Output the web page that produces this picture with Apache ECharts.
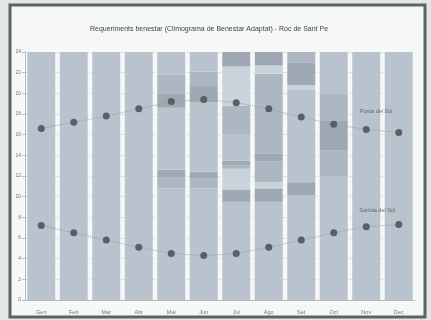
<!DOCTYPE html>
<html><head><meta charset="utf-8">
<script src="https://cdn.jsdelivr.net/npm/echarts@6/dist/echarts.min.js"></script>
<style>html,body{margin:0;padding:0;background:#e4e6e6;}#c{width:431px;height:320px;}</style>
</head><body><div id="c"></div>
<script>
const months = ['Gen','Feb','Mar','Abr','Mai','Jun','Jul','Ago','Set','Oct','Nov','Dec'];
const sunset = [16.6, 17.2, 17.8, 18.5, 19.2, 19.4, 19.1, 18.5, 17.7, 17.0, 16.5, 16.2];
const sunrise = [7.2, 6.5, 5.8, 5.1, 4.5, 4.3, 4.5, 5.1, 5.8, 6.5, 7.1, 7.3];
const yTicks = [0,2,4,6,8,10,12,14,16,18,20,22,24];
// zone bands per month: [upper bound (h), zone type], from bottom to top
const zGen = [[24,'base']];
const zFeb = [[24,'base']];
const zMar = [[24,'base']];
const zAbr = [[24,'base']];
const zMai = [[10.8,'base'],[11.9,'medium'],[12.6,'dark'],[18.6,'base'],[20.0,'dark'],[21.8,'medium'],[24,'base']];
const zJun = [[10.8,'base'],[11.8,'medium'],[12.4,'dark'],[19.1,'base'],[20.7,'dark'],[22.1,'medium'],[24,'base']];
const zJul = [[9.5,'base'],[10.7,'dark'],[12.7,'light'],[13.0,'medium'],[13.5,'dark'],[16.0,'base'],[18.8,'medium'],[22.6,'light'],[24,'dark']];
const zAgo = [[9.5,'base'],[10.8,'dark'],[11.4,'light'],[13.4,'medium'],[14.2,'dark'],[21.9,'medium'],[22.7,'light'],[24,'dark']];
const zSet = [[10.1,'base'],[11.4,'dark'],[20.4,'base'],[20.8,'light'],[23.0,'dark'],[24,'medium']];
const zOct = [[12.0,'base'],[14.5,'medium'],[17.4,'dark'],[20.0,'medium'],[24,'base']];
const zNov = [[24,'base']];
const zDec = [[24,'base']];
const zones = [zGen,zFeb,zMar,zAbr,zMai,zJun,zJul,zAgo,zSet,zOct,zNov,zDec];
const zoneColor = {base:'#b8c3cd', medium:'#acb7c1', dark:'#9fa9b3', light:'#cad2da'};

const maxLayers = Math.max(...zones.map(z => z.length));
const barSeries = [];
for (let k = 0; k < maxLayers; k++) {
  barSeries.push({
    type:'bar', stack:'zones', barCategoryGap:'14%', silent:true,
    data: zones.map(z => {
      if (k >= z.length) return '-';
      const prev = k === 0 ? 0 : z[k-1][0];
      return {value: +(z[k][0]-prev).toFixed(2), itemStyle:{color: zoneColor[z[k][1]]}};
    })
  });
}
function lineSeries(name, vals, labelIdx, dist, off) {
  return {
    type:'line', name, data: vals.map((v,i) => i === labelIdx ? {value:v, label:{show:true, position:'top', distance:dist, offset:off, formatter:name, fontSize:5.5, color:'#666', fontFamily:'Liberation Sans'}} : v),
    symbol:'circle', symbolSize:7, z:5,
    itemStyle:{color:'#5a5f63'},
    lineStyle:{color:'#9aa1a7', width:1, type:'dotted'}
  };
}
const chart = echarts.init(document.getElementById('c'), null, {renderer:'canvas'});
chart.setOption({
  animation:false,
  backgroundColor:'transparent',
  graphic:[{type:'rect', z:-10, shape:{x:10,y:5,width:415,height:312}, style:{fill:'#f6f7f7', stroke:'#5e6365', lineWidth:3}}],
  title:{text:'Requeriments benestar (Climograma de Benestar Adaptat) - Roc de Sant Pe', left:204, top:21, textAlign:'center',
    textStyle:{fontSize:7, fontWeight:'normal', color:'#3d4650', fontFamily:'Liberation Sans'}},
  grid:{left:25, right:16, top:52, bottom:20},
  xAxis:{type:'category', data:months, axisTick:{show:false}, axisLine:{lineStyle:{color:'#bbb'}},
    axisLabel:{fontSize:5.5, color:'#777', margin:9, fontFamily:'Liberation Sans'}},
  yAxis:{type:'value', min:0, max:24, interval:2,
    axisLine:{show:true, lineStyle:{color:'#bbb'}}, axisTick:{show:true, length:3, lineStyle:{color:'#bbb'}},
    axisLabel:{fontSize:5, color:'#777', margin:4, fontFamily:'Liberation Sans'},
    splitLine:{lineStyle:{color:'#dde0e3', type:'dashed'}}},
  series:[...barSeries, lineSeries('Posta del Sol', sunset, 10, 12, [10,0]), lineSeries('Sortida del Sol', sunrise, 10, 10, [11,0])]
});
</script></body></html>
